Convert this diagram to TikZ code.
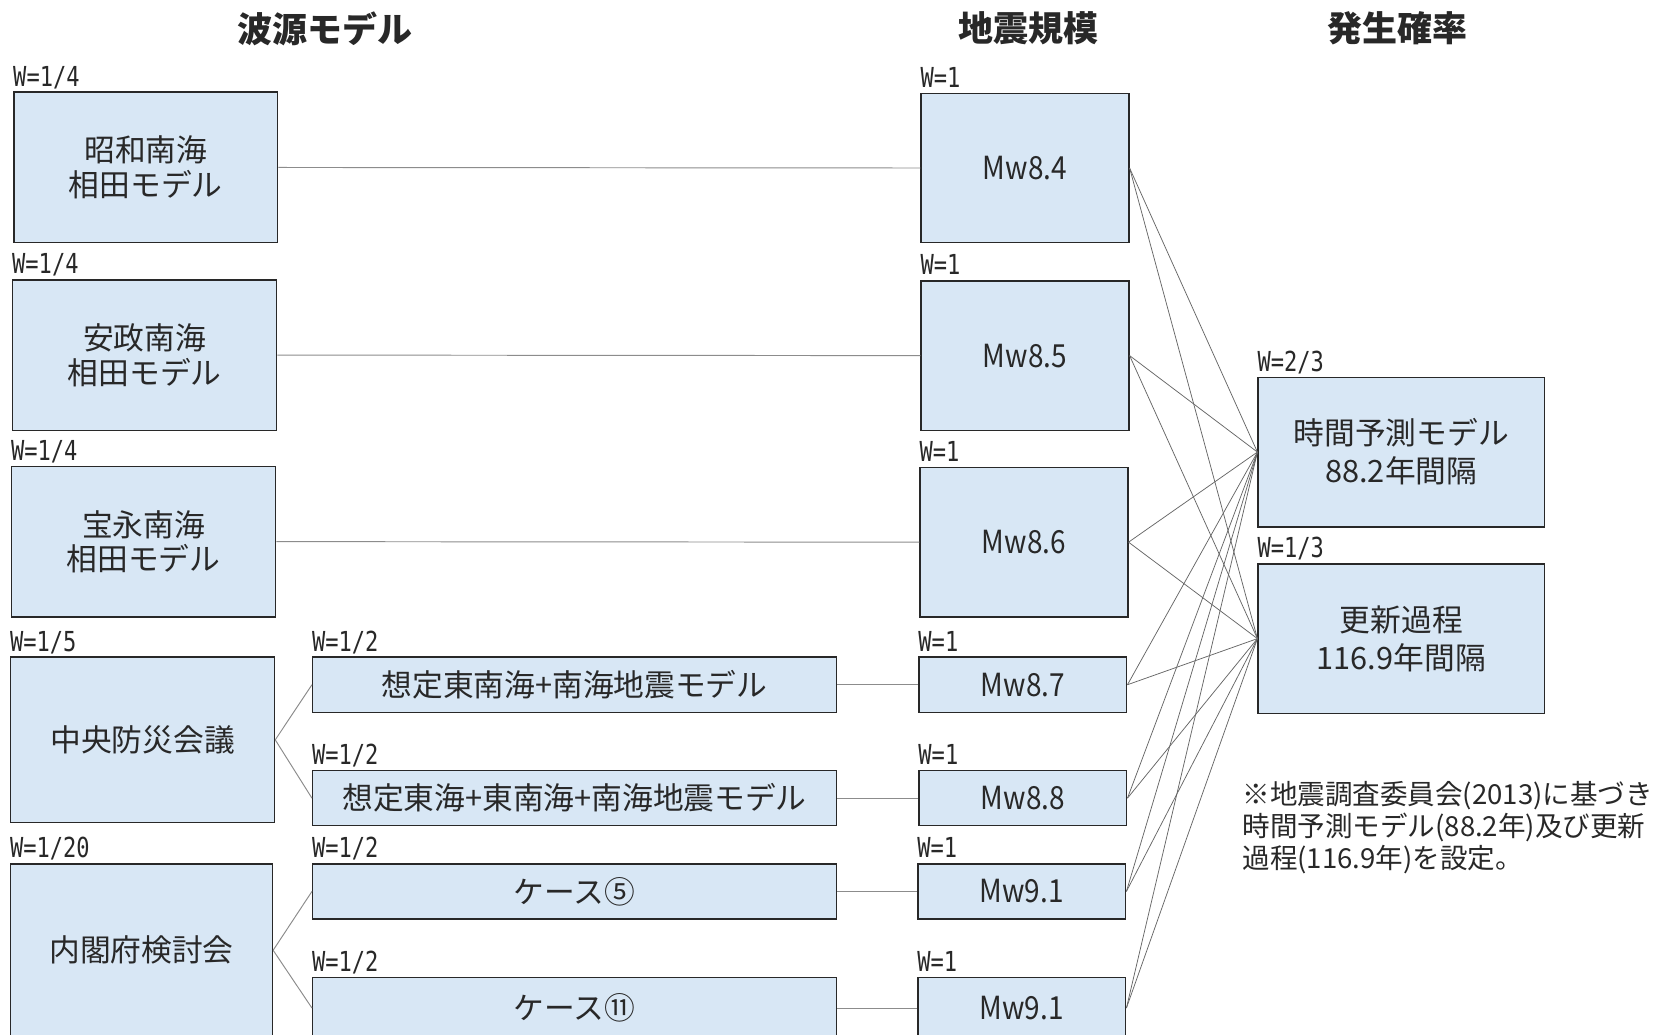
\documentclass[tikz,border=0pt]{standalone}
\usepackage{fontspec}
\setmainfont{Noto Sans CJK JP}
\newfontfamily\wfont{DejaVu Sans Mono}
\definecolor{boxblue}{RGB}{216,231,245}
\definecolor{ink}{RGB}{40,40,40}
\tikzset{
  box/.style={draw=ink, line width=1.4pt, fill=boxblue, inner sep=0pt, align=center,
    font=\fontsize{29}{32.5}\selectfont, text=ink},
  tbox/.style={box, font=\fontsize{29}{36}\selectfont},
  wlab/.style={anchor=base west, inner sep=0pt, yshift=5pt, text=ink},
  ttl/.style={font=\bfseries\fontsize{33}{33}\selectfont, text=ink, inner sep=0pt},
  link/.style={draw=black!45, line width=0.9pt},
  tlink/.style={draw=black!60, line width=0.7pt},
}
\newcommand{\wtxt}[1]{\scalebox{0.8}[1]{\wfont\fontsize{26}{26}\selectfont #1}}
\newcommand{\mwtxt}[1]{\scalebox{0.88}[1]{\fontsize{30}{30}\selectfont #1}}
\begin{document}
\begin{tikzpicture}[x=1pt,y=-1pt]
\useasboundingbox (0,0) rectangle (1568,976);
\clip (0,0) rectangle (1568,976);
\fill[white] (0,0) rectangle (1568,976);

% titles
\node[ttl] (t1) at (307,27) {波源モデル};
\node[ttl] (t2) at (970,27) {地震規模};
\node[ttl] (t3) at (1318,27) {発生確率};

% left column
\node[box, minimum width=249pt, minimum height=142pt] (A) at (137.5,158) {昭和南海\\相田モデル};
\node[box, minimum width=249pt, minimum height=142pt] (B) at (136.5,335) {安政南海\\相田モデル};
\node[box, minimum width=249pt, minimum height=142pt] (C) at (135.5,511) {宝永南海\\相田モデル};
\node[box, minimum width=249pt, minimum height=156pt] (D) at (134.5,698) {中央防災会議};
\node[box, minimum width=247pt, minimum height=163pt] (E) at (133.5,896.5) {内閣府検討会};

\node[wlab] (wA) at (A.north west) {\wtxt{W=1/4}};
\node[wlab] (wB) at (B.north west) {\wtxt{W=1/4}};
\node[wlab] (wC) at (C.north west) {\wtxt{W=1/4}};
\node[wlab] (wD) at (D.north west) {\wtxt{W=1/5}};
\node[wlab] (wE) at (E.north west) {\wtxt{W=1/20}};

% middle column
\node[box, minimum width=494pt, minimum height=52pt] (D1) at (542,646) {想定東南海+南海地震モデル};
\node[box, minimum width=494pt, minimum height=52pt] (D2) at (542,753) {想定東海+東南海+南海地震モデル};
\node[box, minimum width=494pt, minimum height=52pt] (E1) at (542,841) {ケース⑤};
\node[box, minimum width=494pt, minimum height=58pt] (E2) at (542,951) {ケース⑪};

\node[wlab] (wD1) at (D1.north west) {\wtxt{W=1/2}};
\node[wlab] (wD2) at (D2.north west) {\wtxt{W=1/2}};
\node[wlab] (wE1) at (E1.north west) {\wtxt{W=1/2}};
\node[wlab] (wE2) at (E2.north west) {\wtxt{W=1/2}};

% magnitude column
\node[box, minimum width=196pt, minimum height=141pt] (M84) at (967,158.5) {\mwtxt{Mw8.4}};
\node[box, minimum width=196pt, minimum height=141pt] (M85) at (967,335.5) {\mwtxt{Mw8.5}};
\node[box, minimum width=196pt, minimum height=141pt] (M86) at (966,511.5) {\mwtxt{Mw8.6}};
\node[box, minimum width=196pt, minimum height=52pt] (M87) at (965,646) {\mwtxt{Mw8.7}};
\node[box, minimum width=196pt, minimum height=52pt] (M88) at (965,753) {\mwtxt{Mw8.8}};
\node[box, minimum width=196pt, minimum height=52pt] (M91a) at (964,841) {\mwtxt{Mw9.1}};
\node[box, minimum width=196pt, minimum height=58pt] (M91b) at (964,951) {\mwtxt{Mw9.1}};

\foreach \m in {M84,M85,M86,M87,M88,M91a,M91b}
  \node[wlab] (w\m) at (\m.north west) {\wtxt{W=1}};

% probability column
\node[tbox, minimum width=270pt, minimum height=141pt] (T1) at (1322,426.5) {時間予測モデル\\88.2年間隔};
\node[tbox, minimum width=270pt, minimum height=141pt] (T2) at (1322,602.5) {更新過程\\116.9年間隔};
\node[wlab] (wT1) at (T1.north west) {\wtxt{W=2/3}};
\node[wlab] (wT2) at (T2.north west) {\wtxt{W=1/3}};

% note
\node[anchor=north west, align=left, inner sep=0pt, text=ink,
  font=\fontsize{26}{30}\selectfont] (note) at (1172,737)
  {※地震調査委員会(2013)に基づき\\時間予測モデル(88.2年)及び更新\\過程(116.9年)を設定。};

% connectors
\draw[link] (A.east) -- (M84.west);
\draw[link] (B.east) -- (M85.west);
\draw[link] (C.east) -- (M86.west);
\draw[link] (D.east) -- (D1.west);
\draw[link] (D.east) -- (D2.west);
\draw[link] (E.east) -- (E1.west);
\draw[link] (E.east) -- (E2.west);
\draw[link] (D1.east) -- (M87.west);
\draw[link] (D2.east) -- (M88.west);
\draw[link] (E1.east) -- (M91a.west);
\draw[link] (E2.east) -- (M91b.west);
\foreach \m in {M84,M85,M86,M87,M88,M91a,M91b}{
  \draw[tlink] (\m.east) -- (T1.west);
  \draw[tlink] (\m.east) -- (T2.west);
}
\end{tikzpicture}
\end{document}
